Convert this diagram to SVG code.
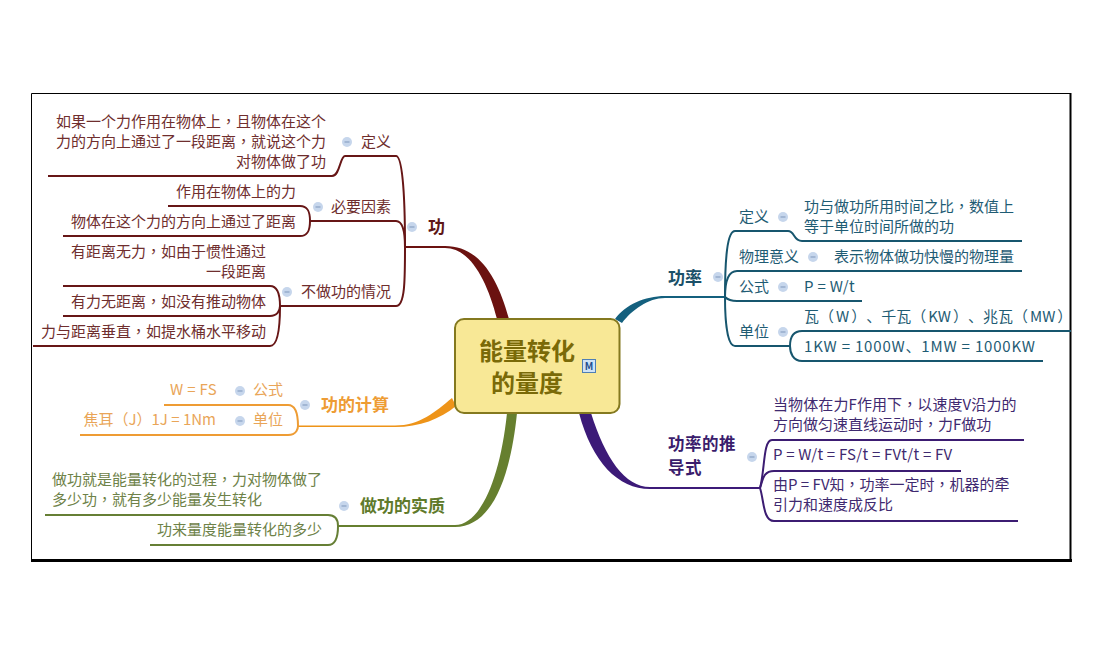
<svg xmlns="http://www.w3.org/2000/svg" width="1096" height="649" viewBox="0 0 1096 649">
<style>
text{font-family:"Noto Sans CJK SC","Noto Sans",sans-serif;font-size:15px;text-spacing-trim:space-all;font-feature-settings:"palt" 0,"chws" 0}
.c{font-family:"Noto Sans CJK TC","Noto Sans CJK SC",sans-serif}
.e{text-anchor:end}
.b{font-weight:700;font-size:17px}
.l{fill:none;stroke-width:2;stroke-linecap:butt;stroke-linejoin:round}
.red{stroke:#671616}.org{stroke:#ee9c34}.olv{stroke:#667f35}.tea{stroke:#17566e}.pur{stroke:#3c1c72}
.tr{fill:#6f2e2e}.to{fill:#e9a558}.tv{fill:#6e8248}.tt{fill:#1f5c74}.tp{fill:#3f2a70}
.Br{fill:#5e1616}.Bo{fill:#ee9c34}.Bv{fill:#5f7a2b}.Bt{fill:#1b5068}.Bp{fill:#3a1c6c}
.ic circle{fill:#c6d6ec}.ic path{stroke:#7f97bb;stroke-width:1;fill:none}
</style>
<defs>
<g id="m" class="ic"><circle r="5"/><path d="M-2.500 0H2.500"/></g>
</defs>
<rect width="1096" height="649" fill="#fff"/>
<g id="frame" fill="none" stroke="#000">
<path d="M31.500 561V93.500H1071" stroke-width="1"/>
<path d="M1070.500 93V561" stroke-width="2"/>
<path d="M31 560.500H1072" stroke-width="3"/>
</g>
<g id="connectors">
<path d="M405 246H445C478 246 497 275 509 319H497C487 280 470 248 445 248H405Z" fill="#6b1210"/>
<g class="l red">
<path d="M405 247C405 190 402 156 396 156H345C340 156 340 176 332 176H48"/>
<path d="M405 247C405 232 403 221 396 221H310C310 212 308 206 300 206H168"/>
<path d="M310 221C310 230 308 236 300 236H63"/>
<path d="M405 247C405 280 405 306 396 306H280C280 295 278 286 270 286H63"/>
<path d="M280 306C280 311 277 316 270 316H63"/>
<path d="M280 306C280 325 278 346 270 346H33"/>
</g>
<path d="M298 425.500H395C420 425.500 435 412 452 398L456 406C440 419 420 427 395 427H298Z" fill="#ee9419"/>
<g class="l org">
<path d="M298 426C298 415 296 405 288 405H164"/>
<path d="M298 426C298 428 297 435 288 435H80"/>
</g>
<path d="M338 525H455C480 525 500 480 507 413H517C510 482 490 527 455 527H338Z" fill="#667f2f"/>
<g class="l olv">
<path d="M338 526C338 520 336 515 328 515H45"/>
<path d="M338 526C338 535 336 545 328 545H150"/>
</g>
<path d="M725 296H665C645 296 625 305 615 319L622 323C632 310 648 298 665 298H725Z" fill="#14607e"/>
<g class="l tea">
<path d="M725 297C725 260 727 231 735 231H788C795 231 793 241 802 241H1022"/>
<path d="M725 297C725 285 727 271 737 271H1022"/>
<path d="M725 297C727 299 730 301 737 301H862"/>
<path d="M725 297C725 320 727 346 735 346H790C790 338 793 331 802 331H1071"/>
<path d="M790 346C790 353 793 361 802 361H1043"/>
</g>
<path d="M760 487H650C625 487 605 458 591 413H579C592 462 618 489 650 489H760Z" fill="#3c1a78"/>
<g class="l pur">
<path d="M760 488C765 470 763 440 772 440H1024"/>
<path d="M760 488C763 480 763 471 774 471H961"/>
<path d="M760 488C764 500 763 521 774 521H1018"/>
</g>
</g>
<g id="root">
<rect x="455" y="319" width="164.500" height="94" rx="9" fill="#f8e896" stroke="#84791f" stroke-width="2"/>
<text x="527" y="360" text-anchor="middle" fill="#7a6a08" style="font-size:24px;font-weight:700">能量转化</text>
<text x="527" y="392" text-anchor="middle" fill="#7a6a08" style="font-size:24px;font-weight:700">的量度</text>
<rect x="582.500" y="359.500" width="13" height="13" fill="#cfe2f5" stroke="#4f7fb5"/>
<text x="589" y="370" text-anchor="middle" fill="#1f4f8f" style="font-size:10px;font-weight:700">M</text>
</g>
<g id="gong">
<text x="428" y="233" class="b Br">功</text>
<use href="#m" x="412" y="227"/>
</g>
<g id="gong-def">
<text x="361" y="147" class="tr">定义</text>
<use href="#m" x="347" y="142"/>
<text x="326" y="127" class="e tr">如果一个力作用在物体上<tspan class="c">，</tspan>且物体在这个</text>
<text x="326" y="147" class="e tr">力的方向上通过了一段距离<tspan class="c">，</tspan>就说这个力</text>
<text x="326" y="167" class="e tr">对物体做了功</text>
</g>
<g id="gong-need">
<text x="331" y="212" class="tr">必要因素</text>
<use href="#m" x="318" y="207"/>
<text x="296" y="197" class="e tr">作用在物体上的力</text>
<text x="296" y="227" class="e tr">物体在这个力的方向上通过了距离</text>
</g>
<g id="gong-none">
<text x="301" y="297" class="tr">不做功的情况</text>
<use href="#m" x="287" y="292"/>
<text x="266" y="257" class="e tr">有距离无力<tspan class="c">，</tspan>如由于惯性通过</text>
<text x="266" y="277" class="e tr">一段距离</text>
<text x="266" y="307" class="e tr">有力无距离<tspan class="c">，</tspan>如没有推动物体</text>
<text x="266" y="337" class="e tr">力与距离垂直<tspan class="c">，</tspan>如提水桶水平移动</text>
</g>
<g id="calc">
<text x="321" y="411" class="b Bo">功的计算</text>
<use href="#m" x="305" y="405"/>
<text x="253" y="395" class="to">公式</text>
<use href="#m" x="240" y="391"/>
<text x="170" y="395" class="to" style="letter-spacing:.3px">W = FS</text>
<text x="253" y="425" class="to">单位</text>
<use href="#m" x="240" y="421"/>
<text x="216" y="425" class="e to">焦耳<tspan class="c">（</tspan>J<tspan class="c">）</tspan>1J = 1Nm</text>
</g>
<g id="essence">
<text x="360" y="512" class="b Bv">做功的实质</text>
<use href="#m" x="344" y="506"/>
<text x="52" y="485" class="tv">做功就是能量转化的过程<tspan class="c">，</tspan>力对物体做了</text>
<text x="52" y="505" class="tv">多少功<tspan class="c">，</tspan>就有多少能量发生转化</text>
<text x="322" y="535" class="e tv">功来量度能量转化的多少</text>
</g>
<g id="power">
<text x="668" y="284" class="b Bt">功率</text>
<use href="#m" x="718" y="277"/>
<text x="739" y="222" class="tt">定义</text>
<use href="#m" x="783" y="217"/>
<text x="804" y="212" class="tt">功与做功所用时间之比<tspan class="c">，</tspan>数值上</text>
<text x="804" y="232" class="tt">等于单位时间所做的功</text>
<text x="739" y="262" class="tt">物理意义</text>
<use href="#m" x="813" y="257"/>
<text x="834" y="262" class="tt">表示物体做功快慢的物理量</text>
<text x="739" y="292" class="tt">公式</text>
<use href="#m" x="783" y="287"/>
<text x="804" y="292" class="tt" style="letter-spacing:.3px">P = W/t</text>
<text x="739" y="337" class="tt">单位</text>
<use href="#m" x="783" y="332"/>
<text x="804" y="322" class="tt">瓦<tspan class="c">（</tspan><tspan dx="2">W</tspan><tspan class="c" dx="2">）</tspan>、千瓦<tspan class="c">（</tspan><tspan dx="2">KW</tspan><tspan class="c" dx="2">）</tspan>、兆瓦<tspan class="c">（</tspan><tspan dx="2">MW</tspan><tspan class="c" dx="2">）</tspan></text>
<text x="804" y="352" class="tt" textLength="231" lengthAdjust="spacing">1KW = 1000W、1MW = 1000KW</text>
</g>
<g id="derive">
<text class="b Bp" style="font-size:16.500px;letter-spacing:.5px"><tspan x="668" y="450">功率的推</tspan><tspan x="668" y="474">导式</tspan></text>
<use href="#m" x="752" y="457"/>
<text x="773" y="410" class="tp" style="letter-spacing:.1px">当物体在力F作用下<tspan class="c">，</tspan>以速度V沿力的</text>
<text x="773" y="430" class="tp">方向做匀速直线运动时<tspan class="c">，</tspan>力F做功</text>
<text x="773" y="460" class="tp" style="letter-spacing:.2px">P = W/t = FS/t = FVt/t = FV</text>
<text x="773" y="490" class="tp">由P = FV知<tspan class="c">，</tspan>功率一定时<tspan class="c">，</tspan>机器的牵</text>
<text x="773" y="510" class="tp">引力和速度成反比</text>
</g>
</svg>
